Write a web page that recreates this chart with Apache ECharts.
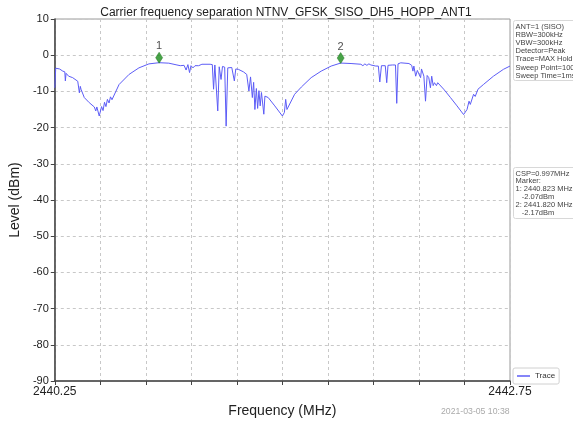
<!DOCTYPE html>
<html>
<head>
<meta charset="utf-8">
<script src="https://cdn.jsdelivr.net/npm/echarts@6/dist/echarts.min.js"></script>
<style>
html, body { margin: 0; padding: 0; background: #fff; }
#main { width: 573px; height: 423px; }
</style>
</head>
<body>
<div id="main"></div>
<script>
// trace (MHz, dBm)
var freqs = [
  2440.250, 2440.255, 2440.276, 2440.294, 2440.305, 2440.308, 2440.312, 2440.326, 2440.348, 2440.376,
  2440.385, 2440.390, 2440.394, 2440.412, 2440.439, 2440.467, 2440.475, 2440.481, 2440.494, 2440.507,
  2440.515, 2440.523, 2440.531, 2440.539, 2440.548, 2440.556, 2440.564, 2440.603, 2440.658, 2440.712,
  2440.767, 2440.823, 2440.876, 2440.921, 2440.939, 2440.949, 2440.960, 2440.971, 2440.981, 2440.990,
  2440.998, 2441.009, 2441.020, 2441.040, 2441.058, 2441.103, 2441.115, 2441.122, 2441.129, 2441.137,
  2441.145, 2441.153, 2441.163, 2441.171, 2441.183, 2441.191, 2441.200, 2441.222, 2441.236, 2441.244,
  2441.258, 2441.286, 2441.304, 2441.316, 2441.325, 2441.335, 2441.342, 2441.349, 2441.357, 2441.364,
  2441.371, 2441.378, 2441.385, 2441.398, 2441.404, 2441.422, 2441.458, 2441.500, 2441.511, 2441.518,
  2441.525, 2441.567, 2441.604, 2441.658, 2441.713, 2441.768, 2441.820, 2441.877, 2441.931, 2441.942,
  2441.953, 2441.964, 2441.975, 2441.986, 2442.013, 2442.027, 2442.035, 2442.044, 2442.065, 2442.073,
  2442.080, 2442.104, 2442.121, 2442.128, 2442.135, 2442.150, 2442.195, 2442.210, 2442.217, 2442.222,
  2442.232, 2442.241, 2442.250, 2442.259, 2442.264, 2442.277, 2442.286, 2442.295, 2442.304, 2442.313,
  2442.320, 2442.328, 2442.335, 2442.346, 2442.353, 2442.386, 2442.423, 2442.459, 2442.495, 2442.514,
  2442.525, 2442.532, 2442.550, 2442.559, 2442.574, 2442.583, 2442.604, 2442.659, 2442.714, 2442.750
];
var levels = [
  -9.0, -3.6, -3.8, -4.4, -4.6, -7.1, -5.0, -5.8, -6.2, -7.2,
  -10.4, -8.6, -9.4, -11.7, -13.1, -14.3, -15.4, -14.3, -16.8, -14.2,
  -15.3, -13.0, -14.2, -12.2, -13.2, -11.5, -12.3, -8.1, -5.3, -3.5,
  -2.4, -2.07, -2.2, -2.7, -2.9, -3.4, -2.8, -4.1, -2.6, -4.8,
  -2.9, -3.5, -2.9, -2.9, -2.5, -2.5, -2.6, -9.4, -2.7, -3.0,
  -15.4, -3.2, -6.7, -3.1, -3.3, -19.6, -3.5, -3.4, -7.1, -3.8,
  -3.9, -4.6, -5.3, -9.9, -6.0, -11.7, -7.5, -15.0, -9.2, -14.7,
  -9.8, -14.0, -10.3, -16.3, -11.3, -11.7, -14.0, -16.8, -15.8, -12.2,
  -15.0, -10.8, -8.8, -6.2, -4.4, -3.0, -2.17, -2.3, -2.5, -2.9,
  -2.4, -2.8, -2.4, -2.7, -3.0, -3.0, -7.4, -2.9, -2.9, -7.6,
  -2.8, -2.7, -2.7, -13.3, -2.4, -2.1, -2.3, -2.8, -4.4, -3.0,
  -5.8, -4.2, -3.8, -6.2, -3.8, -5.8, -12.7, -5.6, -6.2, -9.0,
  -5.8, -8.4, -7.6, -8.4, -7.6, -9.4, -11.7, -14.0, -16.4, -15.0,
  -12.7, -13.6, -10.8, -11.4, -9.4, -9.6, -8.1, -5.8, -3.9, -3.0
];

var markerNames = ['1', '2'];
var markerFreqs = [2440.823, 2441.820];
var markerLevels = [-2.07, -2.17];

var xMin = 2440.25, xMax = 2442.75, xStep = 0.25;
var yMin = -90, yMax = 10, yStep = 10;

var infoTop = ['ANT=1 (SISO)', 'RBW=300kHz', 'VBW=300kHz', 'Detector=Peak',
  'Trace=MAX Hold', 'Sweep Point=100', 'Sweep Time=1ms'];
var infoMarker = ['CSP=0.997MHz', 'Marker:', '1: 2440.823 MHz', '   -2.07dBm',
  '2: 2441.820 MHz', '   -2.17dBm'];

var FONT = '"Liberation Sans", Arial, sans-serif';

var traceData = freqs.map(function (f, i) { return [f, levels[i]]; });
var markData = markerFreqs.map(function (f, i) {
  return { name: markerNames[i], value: [f, markerLevels[i]] };
});

var chart = echarts.init(document.getElementById('main'));
chart.setOption({
  animation: false,
  textStyle: { fontFamily: FONT },
  title: {
    text: 'Carrier frequency separation NTNV_GFSK_SISO_DH5_HOPP_ANT1',
    left: 281,
    top: 2,
    textAlign: 'center',
    textStyle: { fontSize: 12, fontWeight: 'normal', color: '#222', fontFamily: FONT }
  },
  grid: {
    left: 52, right: 63, top: 19, bottom: 42,
    show: true, borderColor: '#9a9a9a', borderWidth: 1
  },
  legend: {
    data: ['Trace'],
    left: 513, top: 368,
    icon: 'rect',
    itemWidth: 13, itemHeight: 1.5, itemGap: 4,
    padding: [4, 4],
    backgroundColor: '#fff',
    borderColor: '#d0d0d0', borderWidth: 1, borderRadius: 2,
    textStyle: { fontSize: 8, color: '#333', fontFamily: FONT }
  },
  xAxis: {
    type: 'value',
    min: xMin, max: xMax, interval: xStep,
    name: 'Frequency (MHz)',
    nameLocation: 'middle',
    nameGap: 23,
    nameTextStyle: { fontSize: 14, color: '#222' },
    axisLine: { onZero: false, lineStyle: { color: '#444', width: 1.5 } },
    axisTick: { length: 4, lineStyle: { color: '#444' } },
    axisLabel: {
      fontSize: 12, color: '#222', margin: 5, showMaxLabel: true, showMinLabel: true,
      formatter: function (v) {
        if (Math.abs(v - xMin) < 1e-6) return '2440.25';
        if (Math.abs(v - xMax) < 1e-6) return '2442.75';
        return '';
      }
    },
    splitLine: { show: true, lineStyle: { color: '#c8c8c8', type: [3, 3] } }
  },
  yAxis: {
    type: 'value',
    min: yMin, max: yMax, interval: yStep,
    name: 'Level (dBm)',
    nameLocation: 'middle',
    nameGap: 26,
    nameTextStyle: { fontSize: 14, color: '#222' },
    axisLine: { show: true, onZero: false, lineStyle: { color: '#444', width: 1.5 } },
    axisTick: { show: true, length: 4, lineStyle: { color: '#444' } },
    axisLabel: { fontSize: 11, color: '#222', margin: 6 },
    splitLine: { show: true, lineStyle: { color: '#c8c8c8', type: [3, 3] } }
  },
  series: [
    {
      name: 'Trace',
      type: 'line',
      data: traceData,
      showSymbol: false,
      symbol: 'none',
      lineStyle: { color: '#5c5cf6', width: 1 },
      itemStyle: { color: '#5c5cf6' },
      z: 3
    },
    {
      name: 'Markers',
      type: 'scatter',
      data: markData,
      symbol: 'diamond',
      symbolSize: [7, 11],
      symbolOffset: [0, -5],
      itemStyle: { color: '#1a8c1a', borderColor: '#0f6a0f', borderWidth: 0.5 },
      label: {
        show: true, position: 'top', distance: 0,
        formatter: '{b}', fontSize: 11, color: '#222'
      },
      z: 5
    }
  ],
  graphic: [
    {
      type: 'group', left: 513, top: 20,
      children: [
        { type: 'rect', shape: { x: 0, y: 0, width: 64, height: 60, r: 2 },
          style: { fill: '#fff', stroke: '#d8d8d8', lineWidth: 1 } },
        { type: 'text', left: 2, top: 2,
          style: { text: infoTop.join('\n'), font: '7.5px ' + FONT, lineHeight: 8.2, fill: '#444' } }
      ]
    },
    {
      type: 'group', left: 513, top: 167,
      children: [
        { type: 'rect', shape: { x: 0, y: 0, width: 64, height: 51, r: 2 },
          style: { fill: '#fff', stroke: '#d8d8d8', lineWidth: 1 } },
        { type: 'text', left: 2, top: 2,
          style: { text: infoMarker.join('\n'), font: '7.5px ' + FONT, lineHeight: 7.9, fill: '#444' } }
      ]
    },
    {
      type: 'text', left: 441, top: 407,
      style: { text: '2021-03-05 10:38', font: '8.7px ' + FONT, fill: '#aaa' }
    }
  ]
});
</script>
</body>
</html>
